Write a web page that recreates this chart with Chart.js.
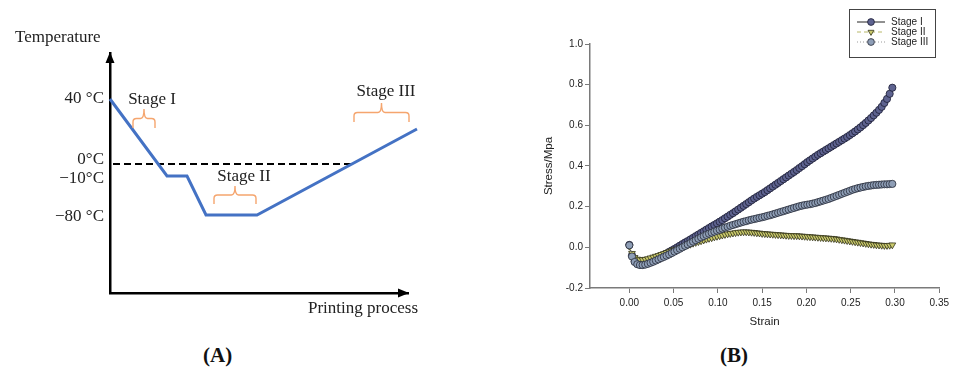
<!DOCTYPE html>
<html>
<head>
<meta charset="utf-8">
<script src="https://cdn.jsdelivr.net/npm/chart.js@4.4.0/dist/chart.umd.min.js"></script>
<style>
  html, body { margin: 0; padding: 0; background: #fff; }
  body { width: 953px; height: 378px; position: relative; overflow: hidden; }
  #chartA { position: absolute; left: 0; top: 0; }
  #chartB { position: absolute; left: 470px; top: 0; }
  .panel-label { position: absolute; top: 343px; font: bold 21px "Liberation Serif", serif; color: #111; }
</style>
</head>
<body>
<canvas id="chartA" width="470" height="330"></canvas>
<canvas id="chartB" width="483" height="340"></canvas>
<div class="panel-label" style="left:203px">(A)</div>
<div class="panel-label" style="left:720px">(B)</div>
<script>
// ---- panel A: schematic temperature profile (positions) ----
const processPos = [0, 57, 77, 96, 147, 307];
const tempPos = [194, 117, 117, 78, 78, 164];
const zeroLineX = [3, 243];
const zeroLineLevel = 129;
const tempTickPos = [194, 133, 114, 76];
const tempTickLabels = ["40 °C", "0°C", "\u221210°C", "\u221280 °C"];
const stageNames = ["Stage I", "Stage II", "Stage III"];
const stageLabelX = [42, 134, 276];
const stageLabelY = [193, 116, 201];
const braceX0 = [23, 104, 244];
const braceX1 = [45, 146, 299];
const braceBottom = [165, 89, 171];
const braceTop = [184, 107, 190];

// ---- panel B: stress-strain curves ----
const strain = [
  0,0.003,0.006,0.009,0.012,0.015,0.018,0.021,0.024,0.027,
  0.03,0.033,0.036,0.039,0.042,0.045,0.048,0.051,0.054,0.057,
  0.06,0.063,0.066,0.069,0.072,0.075,0.078,0.081,0.084,0.087,
  0.09,0.093,0.096,0.099,0.102,0.105,0.108,0.111,0.114,0.117,
  0.12,0.123,0.126,0.129,0.132,0.135,0.138,0.141,0.144,0.147,
  0.15,0.153,0.156,0.159,0.162,0.165,0.168,0.171,0.174,0.177,
  0.18,0.183,0.186,0.189,0.192,0.195,0.198,0.201,0.204,0.207,
  0.21,0.213,0.216,0.219,0.222,0.225,0.228,0.231,0.234,0.237,
  0.24,0.243,0.246,0.249,0.252,0.255,0.258,0.261,0.264,0.267,
  0.27,0.273,0.276,0.279,0.282,0.285,0.288,0.291,0.294,0.297
];
const stageI = [
  0.012,-0.04,-0.068,-0.08,-0.085,-0.085,-0.082,-0.077,-0.071,-0.065,
  -0.058,-0.051,-0.044,-0.037,-0.03,-0.022,-0.015,-0.008,0.0,0.008,
  0.016,0.024,0.031,0.039,0.047,0.055,0.063,0.071,0.079,0.087,
  0.095,0.103,0.11,0.118,0.126,0.134,0.143,0.151,0.16,0.168,
  0.177,0.186,0.195,0.204,0.213,0.222,0.231,0.24,0.248,0.256,
  0.264,0.272,0.281,0.29,0.299,0.308,0.317,0.326,0.335,0.344,
  0.353,0.362,0.371,0.38,0.39,0.399,0.409,0.419,0.428,0.437,
  0.446,0.455,0.463,0.471,0.479,0.487,0.495,0.503,0.511,0.519,
  0.527,0.535,0.543,0.552,0.561,0.57,0.58,0.59,0.601,0.612,
  0.624,0.636,0.649,0.662,0.676,0.691,0.71,0.73,0.755,0.785
];
const stageII = [
  0.005,-0.03,-0.05,-0.058,-0.061,-0.061,-0.059,-0.056,-0.052,-0.048,
  -0.044,-0.04,-0.035,-0.031,-0.026,-0.022,-0.017,-0.012,-0.008,-0.003,
  0.002,0.006,0.011,0.015,0.02,0.024,0.028,0.032,0.036,0.04,
  0.044,0.047,0.051,0.054,0.057,0.06,0.063,0.066,0.068,0.07,
  0.072,0.074,0.075,0.076,0.076,0.075,0.074,0.073,0.071,0.07,
  0.068,0.067,0.066,0.065,0.064,0.063,0.062,0.061,0.06,0.059,
  0.058,0.058,0.057,0.057,0.056,0.055,0.054,0.053,0.052,0.051,
  0.05,0.049,0.048,0.047,0.046,0.045,0.044,0.043,0.041,0.039,
  0.037,0.035,0.033,0.031,0.029,0.027,0.025,0.023,0.021,0.019,
  0.017,0.015,0.014,0.012,0.011,0.01,0.009,0.009,0.01,0.012
];
const stageIII = [
  0.01,-0.045,-0.072,-0.083,-0.087,-0.087,-0.085,-0.081,-0.076,-0.071,
  -0.065,-0.059,-0.053,-0.047,-0.041,-0.035,-0.028,-0.021,-0.014,-0.007,
  0.0,0.007,0.014,0.021,0.028,0.035,0.042,0.049,0.055,0.061,
  0.067,0.072,0.077,0.082,0.087,0.092,0.097,0.101,0.106,0.11,
  0.114,0.118,0.122,0.126,0.129,0.133,0.136,0.139,0.142,0.145,
  0.148,0.151,0.155,0.158,0.162,0.166,0.17,0.174,0.178,0.182,
  0.186,0.19,0.194,0.198,0.202,0.205,0.208,0.21,0.212,0.215,
  0.218,0.222,0.226,0.23,0.234,0.238,0.243,0.248,0.253,0.258,
  0.263,0.268,0.273,0.278,0.283,0.287,0.291,0.294,0.297,0.3,
  0.302,0.304,0.306,0.307,0.308,0.309,0.31,0.31,0.311,0.312
];
const strainTicks = [0, 0.05, 0.1, 0.15, 0.2, 0.25, 0.3, 0.35];
const stressTicks = [-0.2, 0, 0.2, 0.4, 0.6, 0.8, 1.0];

const serif = '"Liberation Serif", "Times New Roman", serif';
const sans = '"Liberation Sans", Arial, sans-serif';

// ---------------- chart A ----------------
const schematicDecor = {
    id: 'schematicDecor',
    afterDraw(chart) {
        const ctx = chart.ctx;
        const xs = chart.scales.x, ys = chart.scales.y;
        const a = chart.chartArea;
        ctx.save();
        // arrow heads on the axes
        ctx.fillStyle = '#000';
        ctx.beginPath();
        ctx.moveTo(a.left, a.top - 1);
        ctx.lineTo(a.left - 4.5, a.top + 10);
        ctx.lineTo(a.left + 4.5, a.top + 10);
        ctx.closePath();
        ctx.fill();
        ctx.beginPath();
        ctx.moveTo(a.right + 1, a.bottom);
        ctx.lineTo(a.right - 10, a.bottom - 4.5);
        ctx.lineTo(a.right - 10, a.bottom + 4.5);
        ctx.closePath();
        ctx.fill();

        // orange braces
        ctx.strokeStyle = '#F5A56E';
        ctx.lineWidth = 1.4;
        for (let i = 0; i < stageNames.length; i++) {
            const x0 = xs.getPixelForValue(braceX0[i]);
            const x1 = xs.getPixelForValue(braceX1[i]);
            const yb = ys.getPixelForValue(braceBottom[i]);
            const yt = ys.getPixelForValue(braceTop[i]);
            const ym = yt + (yb - yt) * 0.5;
            const xc = (x0 + x1) / 2;
            const r = 3.5;
            ctx.beginPath();
            ctx.moveTo(x0, yb);
            ctx.lineTo(x0, ym + r);
            ctx.quadraticCurveTo(x0, ym, x0 + r, ym);
            ctx.lineTo(xc - r, ym);
            ctx.quadraticCurveTo(xc, ym, xc, yt);
            ctx.quadraticCurveTo(xc, ym, xc + r, ym);
            ctx.lineTo(x1 - r, ym);
            ctx.quadraticCurveTo(x1, ym, x1, ym + r);
            ctx.lineTo(x1, yb);
            ctx.stroke();
        }

        // stage labels
        ctx.fillStyle = '#222';
        ctx.font = '17px ' + serif;
        ctx.textAlign = 'center';
        ctx.textBaseline = 'middle';
        for (let i = 0; i < stageNames.length; i++) {
            ctx.fillText(stageNames[i], xs.getPixelForValue(stageLabelX[i]), ys.getPixelForValue(stageLabelY[i]));
        }
        // axis titles
        ctx.textAlign = 'left';
        ctx.fillText('Temperature', 15, 38);
        ctx.fillText('Printing process', 308, 309);
        ctx.restore();
    }
};

new Chart(document.getElementById('chartA').getContext('2d'), {
    type: 'line',
    data: {
        datasets: [{
            label: 'Temperature',
            data: processPos.map((x, i) => ({x: x, y: tempPos[i]})),
            borderColor: '#4472C4',
            borderWidth: 3,
            pointRadius: 0,
            fill: false,
            tension: 0,
            clip: false
        }, {
            label: '0 °C',
            data: zeroLineX.map(x => ({x: x, y: zeroLineLevel})),
            borderColor: '#000',
            borderWidth: 2,
            borderDash: [7, 4],
            pointRadius: 0,
            fill: false
        }]
    },
    options: {
        responsive: false,
        animation: false,
        layout: { padding: { left: 0, top: 53, right: 62, bottom: 0 } },
        plugins: { legend: { display: false }, tooltip: { enabled: false } },
        scales: {
            x: {
                type: 'linear', min: 0, max: 298,
                grid: { display: false },
                border: { display: true, color: '#000', width: 2.5 },
                ticks: { display: false },
                afterFit(scale) { scale.height = 37; }
            },
            y: {
                type: 'linear', min: 0, max: 240,
                grid: { display: false, drawTicks: false },
                border: { display: true, color: '#000', width: 2.5 },
                afterBuildTicks(scale) { scale.ticks = tempTickPos.map(v => ({value: v})); },
                ticks: {
                    autoSkip: false,
                    padding: 6,
                    color: '#222',
                    font: { family: serif, size: 17 },
                    callback: (v, i) => tempTickLabels[i]
                },
                afterFit(scale) { scale.width = 110; }
            }
        }
    },
    plugins: [schematicDecor]
});

// ---------------- chart B ----------------
const boxLegend = {
    id: 'boxLegend',
    afterDraw(chart) {
        const ctx = chart.ctx;
        const bx = 379, by = 9, bw = 86, bh = 48;
        ctx.save();
        ctx.fillStyle = '#fff';
        ctx.fillRect(bx, by, bw, bh);
        ctx.strokeStyle = '#444';
        ctx.lineWidth = 1;
        ctx.strokeRect(bx + 0.5, by + 0.5, bw, bh);
        ctx.font = '10px ' + sans;
        ctx.textBaseline = 'middle';
        ctx.textAlign = 'left';
        chart.data.datasets.forEach((ds, i) => {
            const y = by + 13 + i * 10;
            ctx.strokeStyle = ds.borderColor;
            ctx.lineWidth = ds.borderWidth;
            ctx.setLineDash(ds.borderDash || []);
            ctx.beginPath();
            ctx.moveTo(bx + 8, y);
            ctx.lineTo(bx + 36, y);
            ctx.stroke();
            ctx.setLineDash([]);
            ctx.fillStyle = ds.pointBackgroundColor;
            ctx.strokeStyle = ds.pointBorderColor;
            ctx.lineWidth = ds.pointBorderWidth;
            Chart.helpers.drawPoint(ctx, {
                pointStyle: ds.pointStyle, rotation: ds.pointRotation || 0,
                radius: 3.4, borderWidth: ds.pointBorderWidth
            }, bx + 22, y);
            ctx.fillStyle = '#222';
            ctx.fillText(ds.label, bx + 42, y + 0.5);
        });
        ctx.restore();
    }
};

new Chart(document.getElementById('chartB').getContext('2d'), {
    type: 'scatter',
    data: {
        datasets: [{
            label: 'Stage I',
            data: strain.map((x, i) => ({x: x, y: stageI[i]})),
            showLine: true,
            borderColor: '#222',
            borderWidth: 1,
            pointStyle: 'circle',
            pointRadius: 3.6,
            pointBackgroundColor: '#5E6390',
            pointBorderColor: '#1C1D33',
            pointBorderWidth: 0.8,
            order: 3
        }, {
            label: 'Stage II',
            data: strain.map((x, i) => ({x: x, y: stageII[i]})),
            showLine: true,
            borderColor: '#B8B86A',
            borderWidth: 1,
            borderDash: [4, 3],
            pointStyle: 'triangle',
            pointRotation: 180,
            pointRadius: 3.9,
            pointBackgroundColor: '#CACA6C',
            pointBorderColor: '#33331A',
            pointBorderWidth: 0.8,
            order: 2
        }, {
            label: 'Stage III',
            data: strain.map((x, i) => ({x: x, y: stageIII[i]})),
            showLine: true,
            borderColor: '#9A9A9A',
            borderWidth: 1,
            borderDash: [1, 2],
            pointStyle: 'circle',
            pointRadius: 3.6,
            pointBackgroundColor: '#8E9EB6',
            pointBorderColor: '#262a36',
            pointBorderWidth: 0.8,
            order: 1
        }]
    },
    options: {
        responsive: false,
        animation: false,
        layout: { padding: { left: 68, top: 44, right: 13.7, bottom: 7 } },
        plugins: { legend: { display: false }, tooltip: { enabled: false } },
        scales: {
            x: {
                type: 'linear', min: -0.0444, max: 0.35,
                grid: { drawOnChartArea: false, drawTicks: true, tickLength: 5, color: '#7a7a7a' },
                border: { display: true, color: '#7a7a7a', width: 1.5 },
                afterBuildTicks(scale) { scale.ticks = strainTicks.map(v => ({value: v})); },
                ticks: {
                    autoSkip: false, maxRotation: 0, padding: 4,
                    color: '#222', font: { family: sans, size: 10 },
                    callback: v => v.toFixed(2)
                },
                title: { display: true, text: 'Strain', color: '#222', font: { family: sans, size: 11.5 } },
                afterFit(scale) { scale.height = 45; }
            },
            y: {
                type: 'linear', min: -0.2, max: 1.0,
                grid: { drawOnChartArea: false, drawTicks: true, tickLength: 5, color: '#7a7a7a' },
                border: { display: true, color: '#7a7a7a', width: 1.5 },
                afterBuildTicks(scale) { scale.ticks = stressTicks.map(v => ({value: v})); },
                ticks: {
                    autoSkip: false, padding: 2,
                    color: '#222', font: { family: sans, size: 10 },
                    callback: v => v.toFixed(1)
                },
                title: { display: true, text: 'Stress/Mpa', color: '#222', font: { family: sans, size: 11.5 } },
                afterFit(scale) { scale.width = 52; }
            }
        }
    },
    plugins: [boxLegend]
});
</script>
</body>
</html>
